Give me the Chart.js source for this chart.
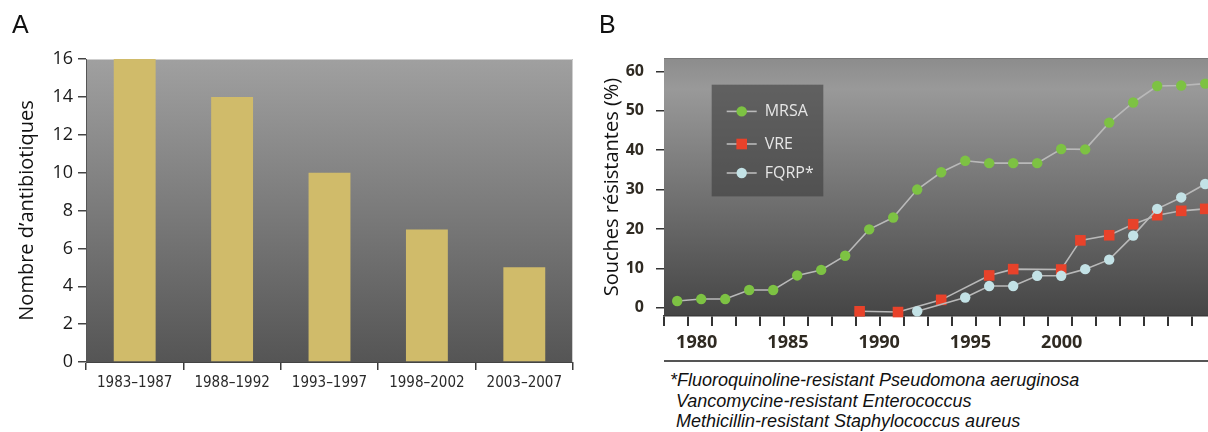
<!DOCTYPE html>
<html>
<head>
<meta charset="utf-8">
<script src="https://cdn.jsdelivr.net/npm/chart.js@4.4.1/dist/chart.umd.min.js"></script>
<style>
  html, body { margin: 0; padding: 0; background: #fff; overflow: hidden; }
  #page { position: relative; width: 1208px; height: 432px; overflow: hidden; }
  canvas { position: absolute; top: 0; }
  #chartA { left: 0; }
  #chartB { left: 590px; }
  .panel { position: absolute; top: 12px; font: 25px 'Liberation Sans', Arial, sans-serif; line-height: 25px; color: #111; }
  #rule { position: absolute; left: 664px; top: 360px; width: 560px; height: 2px; background: #555; }
  #notes { position: absolute; left: 670px; top: 370px; font: italic 18px 'Liberation Sans', Arial, sans-serif; line-height: 20.5px; color: #111; white-space: nowrap; }
  #notes div + div { padding-left: 6px; }
</style>
</head>
<body>
<div id="page">
  <canvas id="chartA" width="590" height="432"></canvas>
  <canvas id="chartB" width="698" height="360"></canvas>
  <div class="panel" style="left:12px">A</div>
  <div class="panel" style="left:599px">B</div>
  <div id="rule"></div>
  <div id="notes">
    <div>*Fluoroquinoline-resistant Pseudomona aeruginosa</div>
    <div>Vancomycine-resistant Enterococcus</div>
    <div>Methicillin-resistant Staphylococcus aureus</div>
  </div>
</div>
<script>
// --- panel A : nouveaux antibiotiques approuvés
const periods = ['1983–1987', '1988–1992', '1993–1997', '1998–2002', '2003–2007'];
const antibiotics = [16, 14, 10, 7, 5];

// --- panel B : souches résistantes (%)
const mrsaYears = [1979, 1980, 1981, 1982, 1983, 1984, 1985, 1986, 1987, 1988, 1989, 1990,
                   1991, 1992, 1993, 1994, 1995, 1996, 1997, 1998, 1999, 2000, 2001];
const mrsaValues = [1.7, 2.2, 2.2, 4.5, 4.5, 8.2, 9.6, 13.2, 19.9, 22.9, 30.0, 34.4,
                    37.3, 36.7, 36.7, 36.7, 40.3, 40.2, 47.0, 52.1, 56.3, 56.4, 56.9];
const vreYears = [1986.6, 1988.2, 1990, 1992, 1993, 1995, 1995.8, 1997, 1998, 1999, 2000, 2001];
const vreValues = [-0.9, -1.1, 2.0, 8.2, 9.8, 9.7, 17.1, 18.4, 21.2, 23.5, 24.6, 25.1];
const fqrpYears = [1989, 1991, 1992, 1993, 1994, 1995, 1996, 1997, 1998, 1999, 2000, 2001];
const fqrpValues = [-0.9, 2.6, 5.5, 5.5, 8.1, 8.1, 9.8, 12.2, 18.3, 25.1, 28.0, 31.4];
const yearLabels = [1980, 1985, 1990, 1995, 2000];
const percentTicks = [0, 10, 20, 30, 40, 50, 60];

Chart.defaults.font.family = "'Open Sans', sans-serif";

// fond dégradé de la zone de tracé
const plotBg = {
    id: 'plotBg',
    beforeDraw(chart, args, opts) {
        const { ctx, chartArea: a } = chart;
        const g = ctx.createLinearGradient(0, a.top, 0, a.bottom);
        opts.stops.forEach(([p, c]) => g.addColorStop(p, c));
        ctx.save();
        ctx.fillStyle = g;
        ctx.fillRect(a.left, a.top, a.right - a.left, a.bottom - a.top);
        ctx.strokeStyle = opts.edge;
        ctx.lineWidth = 1;
        ctx.beginPath();
        ctx.moveTo(a.left, a.top + 0.5);
        ctx.lineTo(a.right - 0.5, a.top + 0.5);
        if (opts.rightEdge) ctx.lineTo(a.right - 0.5, a.bottom + 8);
        ctx.stroke();
        ctx.restore();
    }
};

// légende en boîte sombre dans la zone de tracé
const boxLegend = {
    id: 'boxLegend',
    beforeDatasetsDraw(chart, args, opts) {
        const { ctx, chartArea: a } = chart;
        const x0 = a.left + opts.x, y0 = a.top + opts.y;
        ctx.save();
        ctx.fillStyle = opts.fill;
        ctx.fillRect(x0, y0, opts.width, opts.height);
        ctx.font = opts.font;
        ctx.textBaseline = 'middle';
        chart.data.datasets.forEach((ds, i) => {
            const y = y0 + opts.rows[i];
            ctx.strokeStyle = ds.borderColor;
            ctx.lineWidth = ds.borderWidth;
            ctx.beginPath();
            ctx.moveTo(x0 + 15, y);
            ctx.lineTo(x0 + 45, y);
            ctx.stroke();
            ctx.fillStyle = ds.pointBackgroundColor;
            if (ds.pointStyle === 'rect') {
                const h = ds.pointRadius * Math.SQRT1_2;
                ctx.fillRect(x0 + 30 - h, y - h, 2 * h, 2 * h);
            } else {
                ctx.beginPath();
                ctx.arc(x0 + 30, y, ds.pointRadius, 0, Math.PI * 2);
                ctx.fill();
            }
            ctx.fillStyle = opts.color;
            ctx.fillText(ds.label, x0 + 53, y);
        });
        ctx.restore();
    }
};

new Chart(document.getElementById('chartA'), {
    type: 'bar',
    data: {
        labels: periods,
        datasets: [{
            data: antibiotics,
            backgroundColor: '#d0bb6a',
            categoryPercentage: 1,
            barPercentage: 0.43
        }]
    },
    options: {
        responsive: false,
        animation: false,
        layout: { padding: { top: 59, right: 17 } },
        plugins: {
            legend: { display: false },
            tooltip: { enabled: false },
            plotBg: { stops: [[0, '#a0a0a0'], [1, '#555555']], edge: '#cfcfcf', rightEdge: true }
        },
        scales: {
            x: {
                grid: { drawOnChartArea: false, offset: true, tickLength: 8, lineWidth: 1.5,
                        color: c => c.index === periods.length ? '#cfcfcf' : '#3c3c3c' },
                border: { color: '#444', width: 1 },
                ticks: { color: '#2a2a2a', padding: 4, font: { family: "'DejaVu Sans Condensed', sans-serif", size: 15 } },
                afterFit: s => { s.height = 70; }
            },
            y: {
                min: 0, max: 16,
                grid: { drawOnChartArea: false, tickLength: 8, color: '#444', lineWidth: 1.5 },
                border: { color: '#555', width: 1 },
                ticks: { stepSize: 2, color: '#1a1a1a', padding: 5, font: { size: 18 } },
                title: { display: true, text: 'Nombre d’antibiotiques', color: '#111',
                         font: { size: 20 }, padding: { top: 15, bottom: 0 } },
                afterFit: s => { s.width = 86; }
            }
        }
    },
    plugins: [plotBg]
});

const series = (label, years, values, color, style, radius, order) => ({
    label,
    data: years.map((x, i) => ({ x, y: values[i] })),
    xAxisID: 'x', yAxisID: 'y',
    borderColor: '#b9b9b9',
    borderWidth: 1.6,
    pointStyle: style,
    pointRadius: radius,
    pointBackgroundColor: color,
    pointBorderColor: color,
    pointBorderWidth: 0,
    clip: false,
    order
});

new Chart(document.getElementById('chartB'), {
    type: 'line',
    data: {
        datasets: [
            series('MRSA', mrsaYears, mrsaValues, '#7dc243', 'circle', 5.2, 2),
            series('VRE', vreYears, vreValues, '#e8422a', 'rect', 7.5, 1),
            series('FQRP*', fqrpYears, fqrpValues, '#c3e2e6', 'circle', 5.2, 0)
        ]
    },
    options: {
        responsive: false,
        animation: false,
        layout: { autoPadding: false, padding: { top: 58 } },
        plugins: {
            legend: { display: false },
            tooltip: { enabled: false },
            plotBg: { stops: [[0, '#8c8c8c'], [0.12, '#999999'], [1, '#454545']], edge: '#7a7a7a' },
            boxLegend: { x: 47.7, y: 26.7, width: 111.6, height: 111.7, rows: [26.7, 59.3, 88.3],
                         fill: 'rgba(62,62,62,0.62)', color: '#e6e6e6', font: "16px 'Open Sans', sans-serif" }
        },
        scales: {
            x: {
                type: 'linear', position: 'bottom', weight: 0,
                min: 1978.45, max: 2004.45,
                grid: { drawOnChartArea: false, tickLength: 10, color: '#333', lineWidth: 2 },
                border: { color: '#3a3a3a', width: 1.5 },
                ticks: { display: false },
                afterBuildTicks: s => {
                    const t = [];
                    for (let v = s.min; v <= s.max + 1e-6; v++) t.push({ value: v });
                    s.ticks = t;
                },
                afterFit: s => { s.height = 10; }
            },
            xLab: {
                type: 'linear', position: 'bottom', weight: 1,
                min: 1978.21, max: 2012.4,
                grid: { display: false, drawTicks: false },
                border: { display: false },
                ticks: { color: '#2f2a22', padding: 6, maxRotation: 0, autoSkip: false,
                         font: { size: 18, weight: 'bold' }, callback: v => String(v) },
                afterBuildTicks: s => { s.ticks = yearLabels.map(v => ({ value: v })); },
                afterFit: s => { s.height = 34; }
            },
            y: {
                min: -2.1, max: 63.4,
                grid: { drawOnChartArea: false, tickLength: 8, color: '#333', lineWidth: 1.5 },
                border: { display: false },
                ticks: { color: '#2f2a22', padding: 12, font: { size: 16, weight: 'bold' } },
                afterBuildTicks: s => { s.ticks = percentTicks.map(v => ({ value: v })); },
                title: { display: true, text: 'Souches résistantes (%)', color: '#111',
                         font: { size: 20 }, padding: { top: 10, bottom: 0 } },
                afterFit: s => { s.width = 74; }
            }
        }
    },
    plugins: [plotBg, boxLegend]
});
</script>
</body>
</html>
